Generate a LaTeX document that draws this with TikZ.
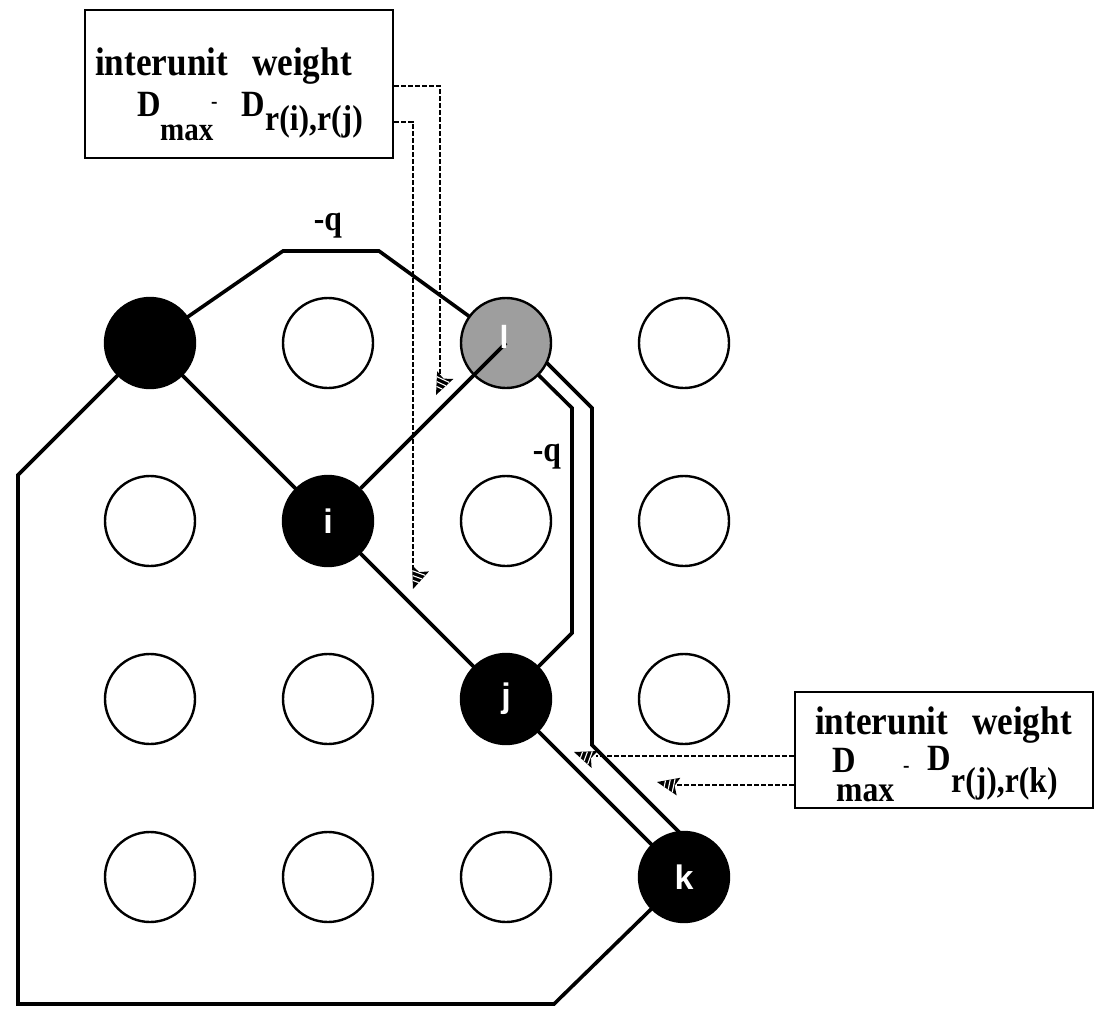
\documentclass[tikz,border=0pt]{standalone}
\usepackage{fontspec}
\setmainfont[FakeStretch=0.88]{Liberation Serif}
\newfontfamily\unitfont{Liberation Sans}
\usetikzlibrary{backgrounds}

\tikzset{
  unit/.style={circle, draw, line width=2.4pt, minimum size=90pt, inner sep=0pt, fill=white},
  active/.style={unit, fill=black, text=white,
    font=\unitfont\bfseries\fontsize{34}{34}\selectfont},
  winner/.style={unit, fill=black!38},
  wire/.style={line width=3.6pt, line join=miter},
  feed/.style={line width=1.5pt, dash pattern=on 5pt off 2pt},
  weightbox/.style={draw, line width=2.6pt, inner sep=0pt},
  txt/.style={inner sep=0pt, anchor=base west},
  big/.style={txt, font=\bfseries\fontsize{40}{44}\selectfont},
  mid/.style={txt, font=\bfseries\fontsize{37}{40}\selectfont},
  sub/.style={txt, font=\bfseries\fontsize{36}{40}\selectfont},
  tiny/.style={txt, font=\bfseries\fontsize{22}{24}\selectfont},
  qlabel/.style={inner sep=0pt, font=\bfseries\fontsize{36}{40}\selectfont},
  hatchtip/.pic={
    \fill (0,0) -- (-22,-9) -- (-18,0) -- (-22,9) -- cycle;
    \draw[white, line width=1.1pt] (-8,-3.2) -- (-8,3.2) (-12.5,-5) -- (-12.5,5) (-17,-6.8) -- (-17,6.8);
  }
}

\begin{document}
\begin{tikzpicture}[x=1pt, y=-1pt]
\useasboundingbox (0,0) rectangle (1098,1009);

% ---- grid of units (columns 150/328/506/684, rows 343/521/699/877)
\node[active] (b) at (150,343) {};
\node[unit]   (u12) at (328,343) {};
\node[winner] (l) at (506,343) {};
\node[unit]   (u14) at (684,343) {};

\node[unit]   (u21) at (150,521) {};
\node[active] (i) at (328,521) {i};
\node[unit]   (u23) at (506,521) {};
\node[unit]   (u24) at (684,521) {};

\node[unit]   (u31) at (150,699) {};
\node[unit]   (u32) at (328,699) {};
\node[active] (j) at (506,699) {j};
\node[unit]   (u34) at (684,699) {};

\node[unit]   (u41) at (150,877) {};
\node[unit]   (u42) at (328,877) {};
\node[unit]   (u43) at (506,877) {};
\node[active] (k) at (684,877) {k};

% ---- corner points of the connection paths
\coordinate (c1) at (18,475);
\coordinate (c2) at (18,1004);
\coordinate (c3) at (554,1004);
\coordinate (c4) at (283,251);
\coordinate (c5) at (379,251);
\coordinate (c6) at (572,408);
\coordinate (c7) at (572,633);
\coordinate (c8) at (546,362);
\coordinate (c9) at (592,408);
\coordinate (c10) at (592,745);
\coordinate (c11) at (686,839);

\begin{scope}[on background layer]
  \draw[wire] (b.center) -- (c1) -- (c2) -- (c3) -- (k.center);
  \draw[wire] (b.center) -- (c4) -- (c5) -- (l.center);
  \draw[wire] (b.center) -- (i.center) -- (j.center) -- (k.center);
  \draw[wire] (l.center) -- (c6) -- (c7) -- (j.center);
  \draw[wire] (c8) -- (c9) -- (c10) -- (c11);
\end{scope}

% connection from i into the winning unit
\draw[wire] (i) -- (l.center);
\node[inner sep=0pt, text=white, font=\unitfont\bfseries\fontsize{32}{32}\selectfont]
  (lname) at (504,337) {l};

% ---- weight labels
\node[qlabel] (q1) at (328,226) {-q};
\node[qlabel] (q2) at (547,457) {-q};

% ---- upper weight box
\node[weightbox, minimum width=308pt, minimum height=148pt] (box1) at (239,84) {};
\node[big] (t1a) at (95,75) {interunit\hspace{24pt}weight};
\node[mid] (t1b) at (137,116) {D};
\node[sub] (t1c) at (160,140) {\fontsize{33}{36}\selectfont max};
\node[tiny] (t1d) at (211,108) {-};
\node[mid] (t1e) at (241,116) {D};
\node[sub] (t1f) at (265,130) {r(i),r(j)};

% ---- lower weight box
\node[weightbox, minimum width=298pt, minimum height=116pt] (box2) at (944,750) {};
\node[big] (t2a) at (815,734) {interunit\hspace{24pt}weight};
\node[mid] (t2b) at (832,772) {D};
\node[sub] (t2c) at (836,801) {max};
\node[tiny] (t2d) at (903,772) {-};
\node[mid] (t2e) at (927,770) {D};
\node[sub] (t2f) at (951,792) {r(j),r(k)};

% ---- dashed feeds from the boxes
\coordinate (a1) at (436,395);
\coordinate (a2) at (413,589);
\coordinate (a3) at (574,752);
\coordinate (a4) at (657,782);

\draw[feed] (box1.east |- {(0,86)}) -- (440,86) -- (440,376);
\draw[feed] (box1.east |- {(0,122)}) -- (413,122) -- (413,570);
\draw[feed] (box2.west |- {(0,756)}) -- (596,756);
\draw[feed] (box2.west |- {(0,785)}) -- (676,785);

\pic[rotate=245] at (a1) {hatchtip};
\pic[rotate=250] at (a2) {hatchtip};
\pic[rotate=160] at (a3) {hatchtip};
\pic[rotate=168] at (a4) {hatchtip};
\end{tikzpicture}
\end{document}
